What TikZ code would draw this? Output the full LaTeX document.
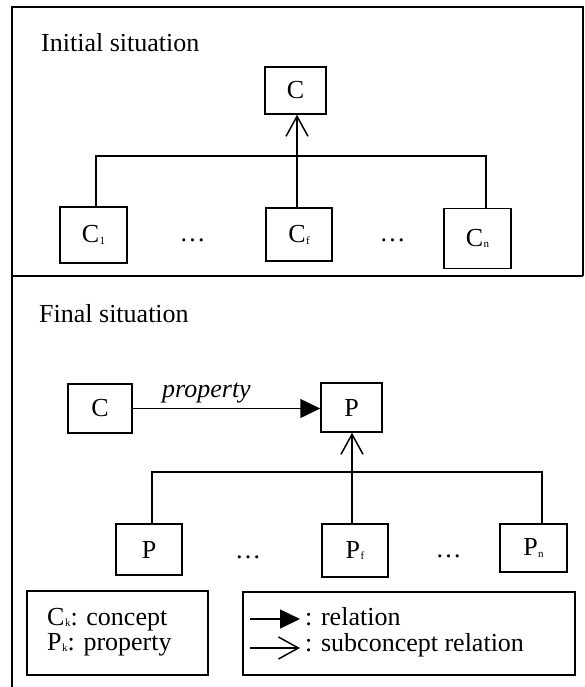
\documentclass[tikz,border=0pt]{standalone}
\usepackage{fontspec}
\setmainfont{Liberation Serif}
\usetikzlibrary{arrows.meta}
\newcommand\smallsub[1]{\kern0.5pt\raisebox{-1.5pt}{\fontsize{11}{12}\selectfont #1}}
\begin{document}
\begin{tikzpicture}[x=1pt,y=-1pt,
  ln/.style={line width=1.5pt},
  box/.style={draw,line width=1.5pt,inner sep=0pt,font=\fontsize{26}{30}\selectfont},
  lbl/.style={inner sep=0pt,anchor=base west,font=\fontsize{26}{30}\selectfont},
  txt/.style={inner sep=0pt,font=\fontsize{26}{30}\selectfont},
  rel/.style={ln,-{Triangle[length=20pt,width=19pt]}},
  subrel/.style={ln,-{Straight Barb[length=20pt,width=22pt,line width=1.5pt]}},
]
\useasboundingbox (0,0) rectangle (585,687);
% frame
\coordinate (fbl) at (12,687);
\coordinate (ftl) at (12,7);
\coordinate (ftr) at (583,7);
\coordinate (fsr) at (583,276);
\coordinate (fsl) at (12,276);
\draw[ln] (fbl) -- (ftl) -- (ftr) -- (fsr);
\draw[ln] (fsl) -- (fsr);

% initial situation
\node[lbl] (ini) at (41,52) {Initial situation};
\node[box,minimum width=61pt,minimum height=47pt] (c) at (295.5,90.5) {C};
\node[box,minimum width=67pt,minimum height=56pt] (c1) at (93.5,235) {C\smallsub{1}};
\node[box,minimum width=66pt,minimum height=53pt] (cf) at (299,234.7) {C\smallsub{f}};
\node[box,minimum width=67pt,minimum height=60pt] (cn) at (477.5,238.5) {C\smallsub{n}};
\node[txt] (d1) at (192.5,240) {…};
\node[txt] (d2) at (392.5,240) {…};
\coordinate (hlL) at (96,156);
\coordinate (hlM) at (297,156);
\coordinate (hlR) at (486,156);
\draw[ln] (c1.north -| hlL) -- (hlL) -- (hlR) -- (cn.north -| hlR);
\draw[ln] (hlM) -- (cf.north -| hlM);
\draw[subrel] (hlM) -- (c.south -| hlM);

% final situation
\node[lbl] (fin) at (39,322) {Final situation};
\node[box,minimum width=64pt,minimum height=49pt] (c2) at (100,408.5) {C};
\node[box,minimum width=61pt,minimum height=49pt] (p) at (351.5,407.5) {P};
\draw[rel] (c2.east) -- (c2.east -| p.west);
\node[lbl,font=\fontsize{26}{30}\selectfont\itshape] (prop) at (162,397) {property};
\node[box,minimum width=66pt,minimum height=51pt] (p1) at (149,549.5) {P};
\node[box,minimum width=66pt,minimum height=53pt] (pf) at (355,550.5) {P\smallsub{f}};
\node[box,minimum width=67pt,minimum height=48pt] (pn) at (533.5,548) {P\smallsub{n}};
\node[txt] (d3) at (248,557) {…};
\node[txt] (d4) at (448.5,556) {…};
\coordinate (plL) at (152,472);
\coordinate (plM) at (352,472);
\coordinate (plR) at (542,472);
\draw[ln] (p1.north -| plL) -- (plL) -- (plR) -- (pn.north -| plR);
\draw[ln] (plM) -- (pf.north -| plM);
\draw[subrel] (plM) -- (p.south -| plM);

% legend
\node[draw,ln,minimum width=181pt,minimum height=84pt,inner sep=0pt] (legL) at (117.5,633) {};
\node[lbl] (lc) at (47,625) {C\smallsub{k}: concept};
\node[lbl] (lp) at (47,650) {P\smallsub{k}: property};
\node[draw,ln,minimum width=332pt,minimum height=83pt,inner sep=0pt] (legR) at (409,633.5) {};
\node[lbl] (lr) at (305,625) {: relation};
\node[lbl] (ls) at (305,651) {: subconcept relation};
\coordinate (a1) at (250,619);
\coordinate (a2) at (250,648);
\draw[rel] (a1) -- ([xshift=-5pt]lr.west |- a1);
\draw[subrel] (a2) -- ([xshift=-5pt]ls.west |- a2);
\end{tikzpicture}
\end{document}
